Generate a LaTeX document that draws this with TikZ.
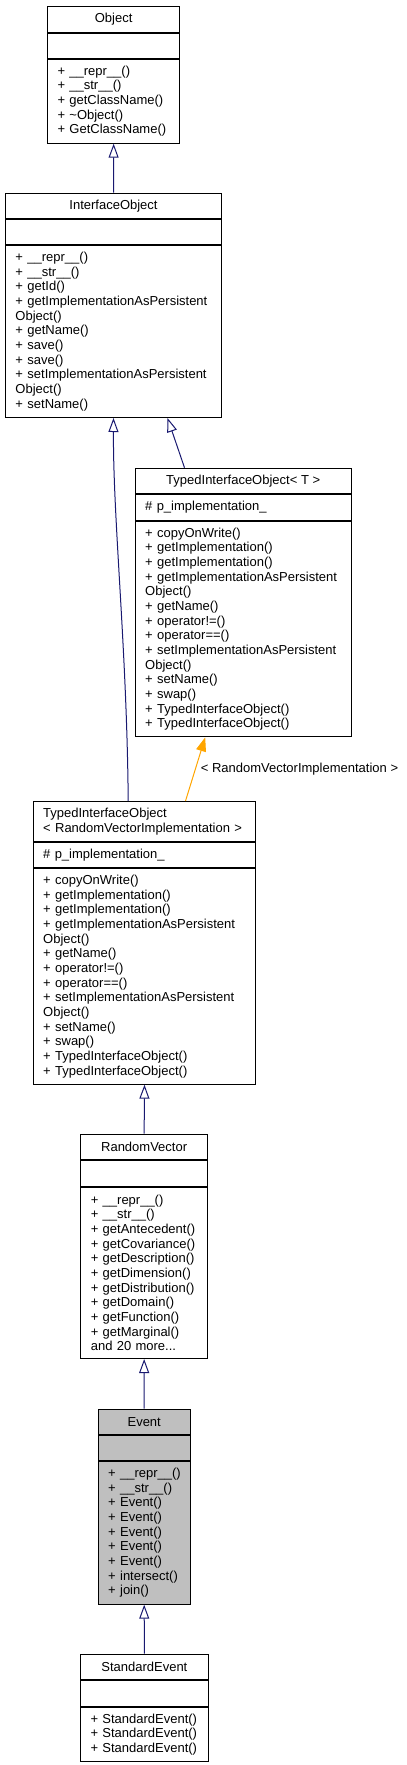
\documentclass[tikz,border=0pt]{standalone}
\usepackage{fontspec}
\setmainfont{Liberation Sans}
\usetikzlibrary{arrows.meta}
\definecolor{umlblue}{HTML}{191970}
\definecolor{umlorange}{HTML}{FFA500}
\definecolor{evgray}{HTML}{BFBFBF}
\newcommand{\typedmembers}{+~copyOnWrite()\\+~getImplementation()\\+~getImplementation()\\+~getImplementationAsPersistent\\Object()\\+~getName()\\+~operator!=()\\+~operator==()\\+~setImplementationAsPersistent\\Object()\\+~setName()\\+~swap()\\+~TypedInterfaceObject()\\+~TypedInterfaceObject()}
\begin{document}
\begin{tikzpicture}[x=1pt,y=-1pt,
	font=\fontsize{13}{14.67}\selectfont,
	part/.style={draw=black, line width=1pt, inner sep=0pt, anchor=north west, align=center},
	members/.style={part, inner xsep=10pt, align=left},
	focus/.style={fill=evgray},
	inherit/.style={draw=umlblue, line width=1pt, -{Triangle[open,length=14pt,width=10pt]}},
	usage/.style={draw=umlorange, line width=1pt, -{Triangle[length=14pt,width=10pt]}}]
	\useasboundingbox (0,0) rectangle (407,1765);
	% Object
	\node[part, minimum width=132.3pt, minimum height=26pt] (objT) at (47,5.7) {Object};
	\node[part, minimum width=132.3pt, minimum height=25pt] (objA) at (objT.south west) {};
	\node[members, text width=112.3pt, minimum height=84pt] (objM) at (objA.south west) {+~\_\_repr\_\_()\\+~\_\_str\_\_()\\+~getClassName()\\+~\textasciitilde Object()\\+~GetClassName()};
	% InterfaceObject
	\node[part, minimum width=216pt, minimum height=25.3pt] (ioT) at (5,192.7) {InterfaceObject};
	\node[part, minimum width=216pt, minimum height=25pt] (ioA) at (ioT.south west) {};
	\node[members, text width=196pt, minimum height=172pt] (ioM) at (ioA.south west) {+~\_\_repr\_\_()\\+~\_\_str\_\_()\\+~getId()\\+~getImplementationAsPersistent\\Object()\\+~getName()\\+~save()\\+~save()\\+~setImplementationAsPersistent\\Object()\\+~setName()};
	% TypedInterfaceObject< T >
	\node[part, minimum width=216pt, minimum height=25.3pt] (tiotT) at (134.7,467.7) {TypedInterfaceObject< T >};
	\node[members, text width=196pt, minimum height=26pt] (tiotA) at (tiotT.south west) {\#~p\_implementation\_};
	\node[members, text width=196pt, minimum height=215.3pt] (tiotM) at (tiotA.south west) {\typedmembers};
	% TypedInterfaceObject< RandomVectorImplementation >
	\node[members, text width=202.6pt, minimum height=39.7pt] (tiorT) at (32.7,801) {TypedInterfaceObject\\< RandomVectorImplementation >};
	\node[members, text width=202.6pt, minimum height=25.3pt] (tiorA) at (tiorT.south west) {\#~p\_implementation\_};
	\node[members, text width=202.6pt, minimum height=215.7pt] (tiorM) at (tiorA.south west) {\typedmembers};
	% RandomVector
	\node[part, minimum width=126.7pt, minimum height=25.6pt] (rvT) at (80.3,1133.7) {RandomVector};
	\node[part, minimum width=126.7pt, minimum height=25.4pt] (rvA) at (rvT.south west) {};
	\node[members, text width=106.7pt, minimum height=171.3pt] (rvM) at (rvA.south west) {+~\_\_repr\_\_()\\+~\_\_str\_\_()\\+~getAntecedent()\\+~getCovariance()\\+~getDescription()\\+~getDimension()\\+~getDistribution()\\+~getDomain()\\+~getFunction()\\+~getMarginal()\\and 20 more...};
	% Event
	\node[part, focus, minimum width=92pt, minimum height=25pt] (evT) at (97.7,1408.7) {Event};
	\node[part, focus, minimum width=92pt, minimum height=25.3pt] (evA) at (evT.south west) {};
	\node[members, focus, text width=72pt, minimum height=142.7pt] (evM) at (evA.south west) {+~\_\_repr\_\_()\\+~\_\_str\_\_()\\+~Event()\\+~Event()\\+~Event()\\+~Event()\\+~Event()\\+~intersect()\\+~join()};
	% StandardEvent
	\node[part, minimum width=127.7pt, minimum height=25.6pt] (seT) at (80,1653.7) {StandardEvent};
	\node[part, minimum width=127.7pt, minimum height=25.4pt] (seA) at (seT.south west) {};
	\node[members, text width=107.7pt, minimum height=54.3pt] (seM) at (seA.south west) {+~StandardEvent()\\+~StandardEvent()\\+~StandardEvent()};
	% connectors
	\draw[inherit] (ioT.north) -- (objM.south);
	\draw[inherit] ([xshift=-58.7pt]tiotT.north) -- ([xshift=54pt]ioM.south);
	\draw[inherit] ([xshift=-16.3pt]tiorT.north) .. controls (127,650) and (113,520) .. (ioM.south);
	\draw[usage] ([xshift=41pt]tiorT.north) -- node[anchor=west, inner sep=0pt, xshift=5pt, text=black] (usageLbl) {< RandomVectorImplementation >} ([xshift=-38pt]tiotM.south);
	\draw[inherit] (rvT.north) -- (tiorM.south);
	\draw[inherit] (evT.north) -- (rvM.south);
	\draw[inherit] (seT.north) -- (evM.south);
\end{tikzpicture}
\end{document}
